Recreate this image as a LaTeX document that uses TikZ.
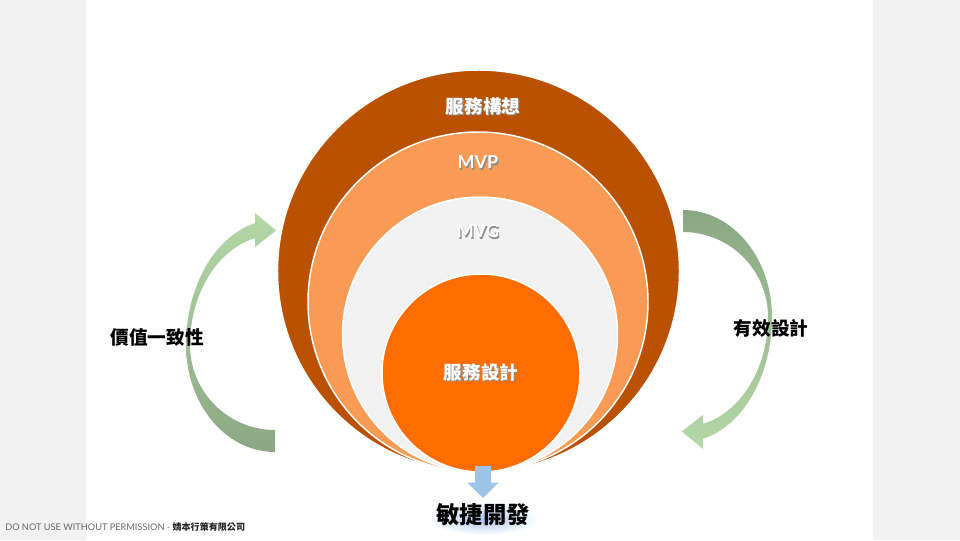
\documentclass[tikz,border=0pt]{standalone}
\usepackage{fontspec}
\newfontfamily\cjk{Noto Sans CJK TC}
\newfontfamily\lato{Lato}
\usetikzlibrary{arrows.meta,calc}
\definecolor{pagegray}{HTML}{F2F2F2}
\definecolor{ringbrown}{HTML}{B95100}
\definecolor{ringmvp}{HTML}{F99B55}
\definecolor{ringmvg}{HTML}{F2F2F2}
\definecolor{ringcore}{HTML}{FF6D00}
\definecolor{glight}{HTML}{B5D8A7}
\definecolor{gdark}{HTML}{8AA783}
\definecolor{arrowblue}{HTML}{9DC3E6}
\definecolor{glowblue}{HTML}{A9C1EC}
\newcommand\shadowtxt[1]{\leavevmode\rlap{\kern0.9pt\raisebox{-0.9pt}{\color{black!45}#1}}#1}
\tikzset{
  ring/.style={circle, inner sep=0pt, draw=white, line width=1.1pt},
  ringlabel/.style={text=white, font=\cjk\bfseries\fontsize{13.9pt}{16pt}\selectfont},
  latolabel/.style={text=white, font=\lato\bfseries\fontsize{13.5pt}{16pt}\selectfont},
  sidelabel/.style={text=black, font=\cjk\bfseries\fontsize{14pt}{16pt}\selectfont},
  curvedarrow/.style={draw=none},
  bluearrow/.style={draw=arrowblue, line width=11.5pt, -{Triangle[width=22.5pt,length=11.5pt]}}
}
\begin{document}
\begin{tikzpicture}[x=0.75pt,y=-0.75pt]
\useasboundingbox (0,0) rectangle (960,540);
\fill[pagegray] (0,0) rectangle (960,540);
\fill[white] (86,0) rectangle (873,540);

% curved arrows
\shade[curvedarrow, top color=glight, bottom color=gdark]
 (275,452) .. controls (225.8,452) and (186,404.1) .. (186,345)
 .. controls (186,286.7) and (214.6,236.4) .. (255,223.2)
 -- (255,213) -- (276,230.5) -- (255,247) -- (255,238.2)
 .. controls (217.3,249.4) and (190,293.7) .. (190,345)
 .. controls (190,391.9) and (228.1,430) .. (275,430) -- cycle;
\shade[curvedarrow, top color=gdark, bottom color=glight]
 (683,210) .. controls (732.2,210) and (772,257.9) .. (772,317)
 .. controls (772,375.3) and (743.4,425.6) .. (703,438.8)
 -- (703,449) -- (682,431.5) -- (703,415) -- (703,423.8)
 .. controls (740.7,412.6) and (768,368.3) .. (768,317)
 .. controls (768,270.1) and (729.9,232) .. (683,232) -- cycle;

% circles
\node[ring, fill=ringbrown, minimum size=301.5pt] (outer) at (478.5,271) {};
\node[ring, fill=ringmvp, minimum size=255pt] (mvp) at (478,302) {};
\node[ring, fill=ringmvg, minimum size=206.25pt] (mvg) at (480,334.5) {};
\node[ring, fill=ringcore, minimum size=148.5pt] (core) at (481,373) {};

% circle labels
\node[ringlabel] (lblouter) at (483,107) {\shadowtxt{服務構想}};
\node[latolabel] (lblmvp) at (478,163) {\shadowtxt{MVP}};
\node[latolabel] (lblmvg) at (478,232) {\shadowtxt{MVG}};
\node[ringlabel] (lblcore) at (481,373) {\shadowtxt{服務設計}};

% side labels
\node[sidelabel] (leftlbl) at (157,337) {價值一致性};
\node[sidelabel] (rightlbl) at (771,328) {有效設計};

% bottom: soft blue glow behind the text
\shade[inner color=glowblue, outer color=white] (484,519) ellipse [x radius=40.5pt, y radius=12pt];
\node[text=black, font=\cjk\bfseries\fontsize{17.5pt}{20pt}\selectfont] (agile) at (483,515) {敏捷開發};
\coordinate (agiletip) at (483,498);
\draw[bluearrow] ($(core.south)+(2,-7)$) -- (agiletip);

% footer
\node[anchor=west, inner sep=0pt] (footer) at (5,527)
 {{\lato\fontsize{6.9pt}{8pt}\selectfont\color{black!60}DO NOT USE WITHOUT PERMISSION - }{\cjk\bfseries\fontsize{6.8pt}{8pt}\selectfont\color{black!85}婧本行策有限公司}};
\end{tikzpicture}
\end{document}
